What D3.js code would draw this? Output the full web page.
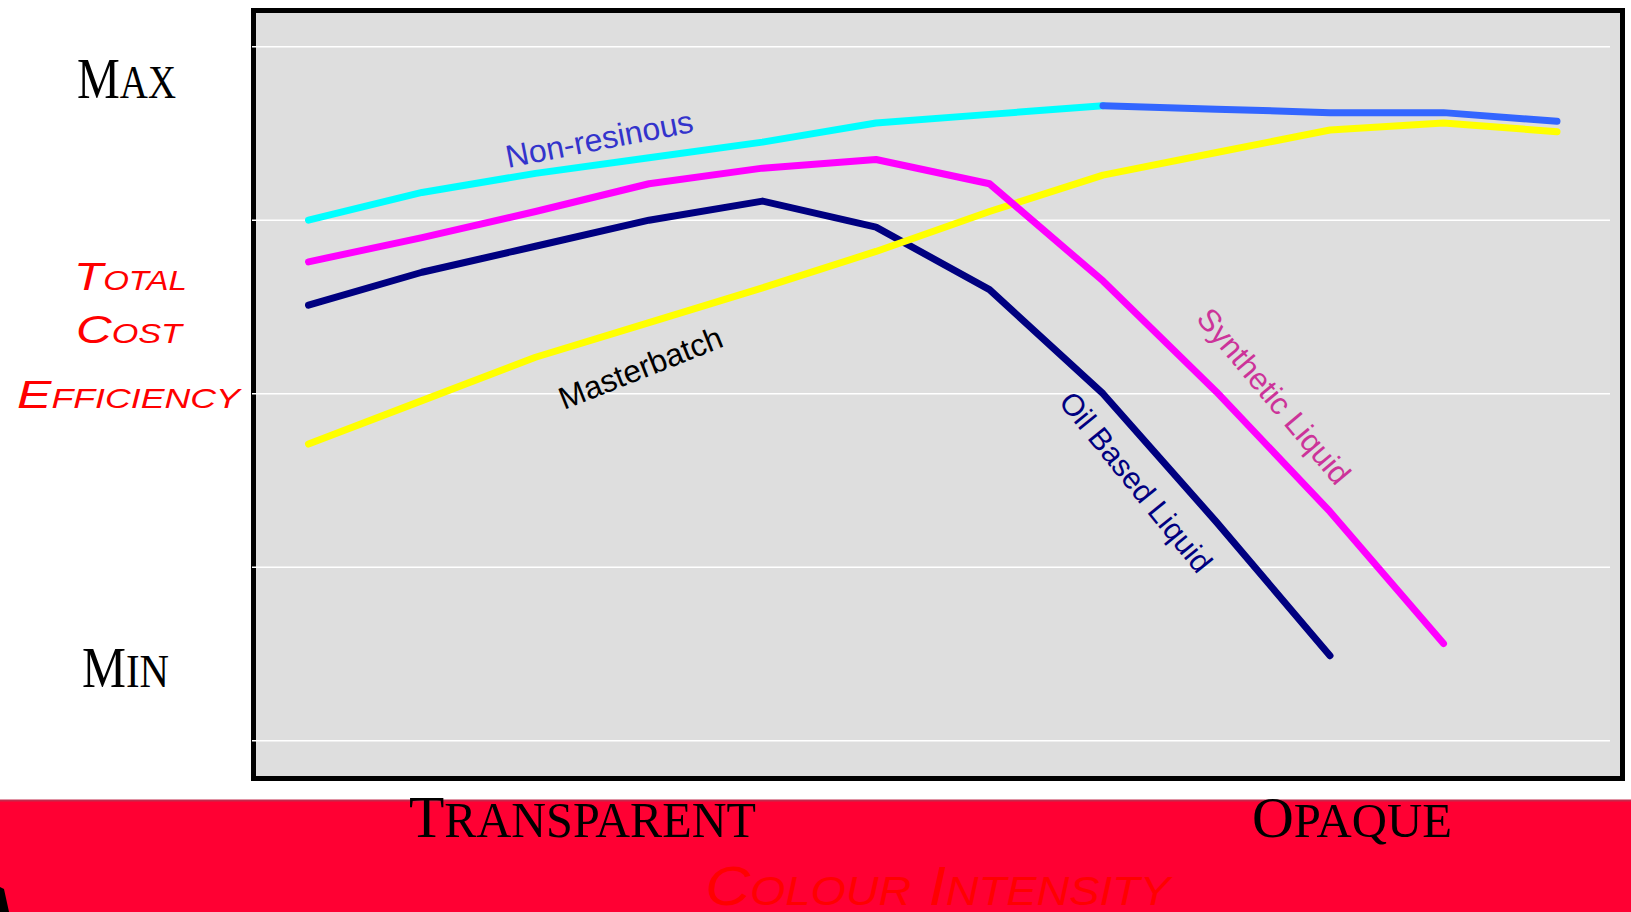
<!DOCTYPE html>
<html>
<head>
<meta charset="utf-8">
<script src="https://cdn.jsdelivr.net/npm/d3@7"></script>
<style>
  body { margin: 0; background: #fff; }
  svg { display: block; }
</style>
</head>
<body>
<svg id="chart" width="1631" height="912"></svg>
<script>
// steps along the colour-intensity axis (transparent -> opaque)
const steps = [1, 2, 3, 4, 5, 6, 7, 8, 9, 10, 11, 12];
const gridTicks = [0, 1, 2, 3, 4];

// total cost efficiency (gridline units)
const nonResinous     = [3.00, 3.16, 3.27, 3.36, 3.45, 3.56, 3.61, 3.66];
const nonResinousHigh = [null, null, null, null, null, null, null, 3.66, 3.64, 3.62, 3.62, 3.57];
const synthetic       = [2.76, 2.90, 3.05, 3.21, 3.30, 3.35, 3.21, 2.65, 2.01, 1.32, 0.56];
const oilBased        = [2.51, 2.70, 2.85, 3.00, 3.11, 2.96, 2.60, 2.00, 1.26, 0.49];
const masterbatch     = [1.71, 1.96, 2.21, 2.41, 2.61, 2.82, 3.05, 3.26, 3.39, 3.52, 3.56, 3.51];

const svg = d3.select("#chart");

// frame of the plot
const plot = { left: 253.5, top: 10.5, right: 1622.5, bottom: 778.5 };

const x = d3.scalePoint()
  .domain(steps)
  .range([308.5, 1557]);

const y = d3.scaleLinear()
  .domain([0, 4])
  .range([740.7, 46.7]);

// bottom band
svg.append("rect")
  .attr("x", 0).attr("y", 800)
  .attr("width", 1631).attr("height", 112)
  .attr("fill", "#ff0033");
svg.append("rect")
  .attr("x", 0).attr("y", 799.5)
  .attr("width", 1631).attr("height", 2)
  .attr("fill", "#c42a4c");
svg.append("path")
  .attr("d", "M0,887 L4,889 L9,912 L0,912 Z")
  .attr("fill", "#000");

// plot area + frame
svg.append("rect")
  .attr("x", plot.left).attr("y", plot.top)
  .attr("width", plot.right - plot.left)
  .attr("height", plot.bottom - plot.top)
  .attr("fill", "#dedede")
  .attr("stroke", "#000")
  .attr("stroke-width", 5);

// gridlines
svg.append("g")
  .selectAll("line")
  .data(gridTicks).enter().append("line")
    .attr("x1", 252).attr("x2", 1610)
    .attr("y1", d => y(d)).attr("y2", d => y(d))
    .attr("stroke", "#fff")
    .attr("stroke-width", 1.5);

// lines
const line = d3.line()
  .defined(d => d[1] != null)
  .x(d => x(d[0]))
  .y(d => y(d[1]));

const series = [
  { vals: oilBased,        color: "#000080" },
  { vals: masterbatch,     color: "#ffff00" },
  { vals: synthetic,       color: "#ff00ff" },
  { vals: nonResinous,     color: "#00ffff" },
  { vals: nonResinousHigh, color: "#3366ff" }
];

svg.append("g")
  .selectAll("path")
  .data(series).enter().append("path")
    .attr("d", s => line(s.vals.map((v, i) => [steps[i], v])))
    .attr("fill", "none")
    .attr("stroke", s => s.color)
    .attr("stroke-width", 7)
    .attr("stroke-linecap", "round")
    .attr("stroke-linejoin", "round");

// series labels
const labels = [
  { text: "Non-resinous",     color: "#3333cc", x: 508,  y: 168, rot: -11,   anchor: "start",  dy: 0,       size: 32 },
  { text: "Masterbatch",      color: "#000000", x: 564,  y: 410, rot: -21.7, anchor: "start",  dy: 0,       size: 31.5 },
  { text: "Oil Based Liquid", color: "#000080", x: 1136, y: 482, rot: 51,    anchor: "middle", dy: "0.35em", size: 30.5 },
  { text: "Synthetic Liquid", color: "#cc3399", x: 1274, y: 396, rot: 50,    anchor: "middle", dy: "0.35em", size: 31 }
];

svg.append("g")
  .selectAll("text")
  .data(labels).enter().append("text")
    .attr("transform", d => `translate(${d.x},${d.y}) rotate(${d.rot})`)
    .attr("text-anchor", d => d.anchor)
    .attr("dy", d => d.dy)
    .attr("fill", d => d.color)
    .style("font-family", "'Liberation Sans', Arial, sans-serif")
    .style("font-size", d => d.size + "px")
    .text(d => d.text);

// small-caps titles: [first letter, rest], stretched to the width seen
function smallCaps(words, opt) {
  const t = svg.append("text")
    .attr("fill", opt.color)
    .style("font-family", opt.family)
    .style("font-style", opt.italic ? "italic" : "normal");
  words.forEach((w, i) => {
    t.append("tspan").style("font-size", opt.big + "px").text((i ? " " : "") + w[0]);
    t.append("tspan").style("font-size", opt.small + "px").text(w.slice(1).toUpperCase());
  });
  const w = t.node().getComputedTextLength();
  t.attr("transform", `translate(${opt.x0},${opt.y}) scale(${(opt.x1 - opt.x0) / w},1)`);
  return t;
}

const serif = "'Liberation Serif', 'Times New Roman', serif";
const sans  = "'Liberation Sans', Arial, sans-serif";

smallCaps(["Max"],         { family: serif, color: "#000", big: 57, small: 46, x0: 77,  x1: 176,  y: 98 });
smallCaps(["Min"],         { family: serif, color: "#000", big: 57, small: 47, x0: 82,  x1: 169,  y: 687 });
smallCaps(["Transparent"], { family: serif, color: "#000", big: 60, small: 50, x0: 409, x1: 756,  y: 837 });
smallCaps(["Opaque"],      { family: serif, color: "#000", big: 57, small: 48, x0: 1252, x1: 1452, y: 837 });

smallCaps(["Total"],       { family: sans, italic: true, color: "#ff0000", big: 39, small: 27, x0: 74, x1: 187, y: 290 });
smallCaps(["Cost"],        { family: sans, italic: true, color: "#ff0000", big: 39, small: 27, x0: 76, x1: 182, y: 343 });
smallCaps(["Efficiency"],  { family: sans, italic: true, color: "#ff0000", big: 39, small: 27, x0: 17, x1: 240, y: 408 });

smallCaps(["Colour", "Intensity"], { family: sans, italic: true, color: "#ff0000", big: 55, small: 40, x0: 705, x1: 1170, y: 905 });
</script>
</body>
</html>
